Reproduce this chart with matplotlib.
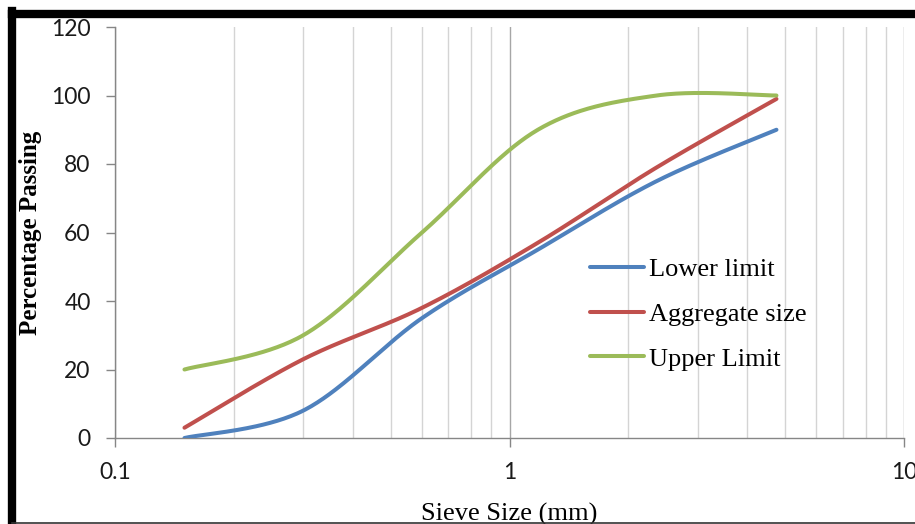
import numpy as np
import matplotlib

matplotlib.use('Agg')
import matplotlib.pyplot as plt
from matplotlib.ticker import LogLocator, FixedLocator, NullFormatter
from matplotlib.lines import Line2D

# Sieve sizes (mm) and percentage passing
sieve = [0.15, 0.3, 0.6, 1.18, 2.36, 4.75]
lower_limit = [0, 8, 35, 55, 75, 90]
aggregate = [3, 23, 38, 57, 79, 99]
upper_limit = [20, 30, 60, 90, 100, 100]

labels = ['Lower limit', 'Aggregate size', 'Upper Limit']
colors = ['#4F81BD', '#C0504D', '#9BBB59']

yticks = [0, 20, 40, 60, 80, 100, 120]
xticks = [0.1, 1, 10]
xticklabels = ['0.1', '1', '10']


def smooth(xs, ys, n=60):
    '''
    Excel style smoothed line: Catmull-Rom bezier in (log x, y) space
    '''
    p = np.column_stack([np.log10(xs), ys]).astype(float)
    p = np.vstack([p[0], p, p[-1]])
    out = []
    for i in range(1, len(p) - 2):
        p0, p1, p2, p3 = p[i - 1], p[i], p[i + 1], p[i + 2]
        c1 = p1 + (p2 - p0) / 6
        c2 = p2 - (p3 - p1) / 6
        t = np.linspace(0, 1, n)[:, None]
        seg = ((1 - t) ** 3 * p1 + 3 * (1 - t) ** 2 * t * c1
               + 3 * (1 - t) * t ** 2 * c2 + t ** 3 * p2)
        out.append(seg if i == 1 else seg[1:])
    out = np.vstack(out)
    return 10 ** out[:, 0], out[:, 1]


fig = plt.figure(figsize=(9.15, 5.24), dpi=100)
ax = fig.add_axes([115 / 915, 1 - 438 / 524, 789 / 915, 411 / 524])

for ys, c, lab in zip([lower_limit, aggregate, upper_limit], colors, labels):
    sx, sy = smooth(sieve, ys)
    ax.plot(sx, sy, color=c, lw=2.9, solid_capstyle='round', label=lab,
            zorder=3)

ax.set_xscale('log')
ax.set_xlim(0.1, 10)
ax.set_ylim(0, 120)

ax.xaxis.set_major_locator(FixedLocator(xticks))
ax.set_xticklabels(xticklabels)
ax.xaxis.set_minor_locator(LogLocator(base=10, subs=np.arange(2, 10)))
ax.xaxis.set_minor_formatter(NullFormatter())
ax.set_yticks(yticks)

ax.grid(True, which='major', axis='x', color='#A6A6A6', lw=1.0)
ax.grid(True, which='minor', axis='x', color='#D4D4D4', lw=1.0)
ax.set_axisbelow(True)

for side in ['top', 'right']:
    ax.spines[side].set_visible(False)
for side in ['left', 'bottom']:
    ax.spines[side].set_color('#868686')
    ax.spines[side].set_linewidth(1.0)

ax.tick_params(axis='both', which='major', direction='out', length=6.5,
               width=1.0, color='#868686', labelcolor='#1a1a1a')
ax.tick_params(axis='x', which='minor', length=0)
ax.tick_params(axis='x', pad=11)
ax.tick_params(axis='y', pad=11)
for t in ax.get_xticklabels() + ax.get_yticklabels():
    t.set_fontfamily('Lato')
    t.set_fontsize(16.5)

ax.set_xlabel('Sieve Size (mm)', family='Liberation Serif', fontsize=19)
ax.set_ylabel('Percentage Passing', family='Liberation Serif',
              fontsize=18, fontweight='bold')
ax.xaxis.set_label_coords(0.5, -0.158)
ax.yaxis.set_label_coords(-0.092, 0.5)

leg = ax.legend(loc='upper left', bbox_to_anchor=(590 / 915, 1 - 258 / 524),
                bbox_transform=fig.transFigure, frameon=False,
                prop={'family': 'Liberation Serif', 'size': 19},
                handlelength=2.05, handletextpad=0.2, labelspacing=0.8,
                borderpad=0, borderaxespad=0)

# black frame around the picture (right side is cut off)
fig.add_artist(Line2D([12 / 915, 1.0], [1 - 14 / 524, 1 - 14 / 524],
                      transform=fig.transFigure, color='black', lw=6))
fig.add_artist(Line2D([12 / 915, 12 / 915], [1 - 11 / 524, 0],
                      transform=fig.transFigure, color='black', lw=6))
fig.add_artist(Line2D([12 / 915, 1.0], [1.5 / 524, 1.5 / 524],
                      transform=fig.transFigure, color='#333333', lw=1.2))

fig.savefig('out.png', dpi=100)
